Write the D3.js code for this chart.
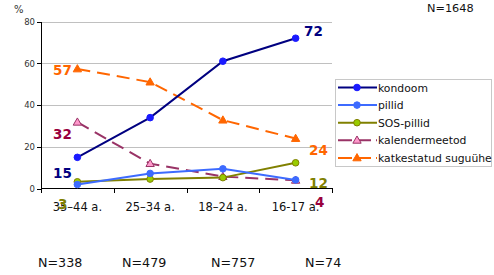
<!DOCTYPE html>
<meta charset="utf-8" />
<style>
  body { margin: 0; background: #fff; font-family: "DejaVu Sans", Verdana, sans-serif; }
  .grid line { stroke: #c0c0c0; stroke-width: 1; shape-rendering: crispEdges; }
  .axis path, .axis line { stroke: #000; shape-rendering: crispEdges; }
  .series { fill: none; stroke-width: 2; }
  .vlabel { font-weight: bold; font-size: 13.5px; }
</style>
<body>
<script src="https://d3js.org/d3.v7.min.js"></script>
<script>
  // categories and tick labels
  var categories = ["35\u201344 a.", "25\u201334 a.", "18\u201324 a.", "16-17 a."];
  var sampleSizes = ["N=338", "N=479", "N=757", "N=74"];
  var yTicks = [0, 20, 40, 60, 80];

  // series values (%)
  var kondoom = [15, 34, 61, 72];
  var pillid = [2, 7.3, 9.5, 4.2];
  var sosPillid = [3.3, 4.6, 5.3, 12.4];
  var kalender = [31.8, 12, 5.8, 4];
  var katkestatud = [57.3, 51, 32.8, 24];

  var series = [
    { name: "kondoom", values: kondoom, line: "#000080", fill: "#1a1aff", stroke: "#1a1aff", marker: "circle", dash: null },
    { name: "pillid", values: pillid, line: "#3d6bff", fill: "#3d6bff", stroke: "#3d6bff", marker: "circle", dash: null },
    { name: "SOS-pillid", values: sosPillid, line: "#808000", fill: "#99cc00", stroke: "#808000", marker: "circle", dash: null },
    { name: "kalendermeetod", values: kalender, line: "#993366", fill: "#ff99cc", stroke: "#993366", marker: "triangle", dash: "13,7" },
    { name: "katkestatud suguühe", values: katkestatud, line: "#ff6600", fill: "#ff6600", stroke: "#ff6600", marker: "triangle", dash: "13,7" }
  ];

  // end value labels
  var endLabels = [
    { text: "72", x: 304, y: 36, color: "#000080" },
    { text: "15", x: 53, y: 178, color: "#000080" },
    { text: "57", x: 53, y: 75, color: "#ff6600" },
    { text: "24", x: 309, y: 155, color: "#ff6600" },
    { text: "32", x: 53, y: 139, color: "#99003d" },
    { text: "4", x: 315, y: 207, color: "#99003d" },
    { text: "12", x: 309, y: 188, color: "#808000" },
    { text: "3", x: 58, y: 209, color: "#808000" }
  ];

  var width = 494, height = 275;
  var svg = d3.select("body").append("svg")
    .attr("width", width).attr("height", height);

  var pLeft = 41, pRight = 332, pTop = 21.5, pBottom = 188.7;

  var x = d3.scaleBand().domain(categories).range([pLeft, pRight]);
  var y = d3.scaleLinear().domain([0, 80]).range([pBottom, pTop]);
  var cx = function (i) { return x(categories[i]) + x.bandwidth() / 2; };

  // gridlines
  svg.append("g").attr("class", "grid")
    .selectAll("line").data(yTicks.slice(1)).enter().append("line")
    .attr("x1", pLeft).attr("x2", pRight)
    .attr("y1", function (d) { return Math.round(y(d)) + 0.5; })
    .attr("y2", function (d) { return Math.round(y(d)) + 0.5; });

  // y axis
  var yAxis = svg.append("g").attr("class", "axis")
    .attr("transform", "translate(" + pLeft + ",0)")
    .call(d3.axisLeft(y).tickValues(yTicks).tickSize(4).tickSizeOuter(0));
  yAxis.selectAll("text").style("font-size", "8.5px").style("fill", "#333")
    .attr("x", -6).style("font-family", "DejaVu Sans");
  yAxis.select(".domain").attr("stroke-width", 1.5);

  // x axis (ticks at category boundaries)
  var xAxisG = svg.append("g").attr("class", "axis");
  xAxisG.append("line").attr("x1", pLeft).attr("x2", pRight + 1)
    .attr("y1", pBottom).attr("y2", pBottom).attr("stroke", "#000").attr("stroke-width", 1.5);
  var bounds = categories.map(function (c) { return x(c); }).concat([pRight]);
  xAxisG.selectAll(".tk").data(bounds).enter().append("line")
    .attr("x1", function (d) { return Math.round(d) + 0.5; })
    .attr("x2", function (d) { return Math.round(d) + 0.5; })
    .attr("y1", pBottom).attr("y2", pBottom + 4);
  xAxisG.selectAll(".lbl").data(categories).enter().append("text")
    .attr("x", function (d, i) { return cx(i); })
    .attr("y", 211)
    .attr("text-anchor", "middle")
    .style("font-size", "11.5px").style("fill", "#111")
    .text(function (d) { return d; });

  // % label
  svg.append("text").attr("x", 14).attr("y", 13)
    .style("font-size", "10px").style("fill", "#333").text("%");

  var line = d3.line()
    .x(function (d, i) { return cx(i); })
    .y(function (d) { return y(d); });

  var tri = d3.symbol().type(d3.symbolTriangle).size(30);

  function drawMarker(g, s, px, py) {
    if (s.marker === "circle") {
      g.append("circle").attr("cx", px).attr("cy", py).attr("r", 3.3)
        .attr("fill", s.fill).attr("stroke", s.stroke).attr("stroke-width", 1);
    } else {
      g.append("path").attr("d", tri())
        .attr("transform", "translate(" + px + "," + (py + 0.5) + ")")
        .attr("fill", s.fill).attr("stroke", s.stroke).attr("stroke-width", 1);
    }
  }

  // draw series in back-to-front order
  var order = [4, 3, 2, 1, 0];
  order.forEach(function (k) {
    var s = series[k];
    var g = svg.append("g");
    g.append("path").attr("class", "series")
      .attr("d", line(s.values))
      .attr("stroke", s.line)
      .attr("stroke-dasharray", s.dash);
    s.values.forEach(function (v, i) { drawMarker(g, s, cx(i), y(v)); });
  });

  // value labels
  svg.selectAll(".vlabel").data(endLabels).enter().append("text")
    .attr("class", "vlabel")
    .attr("x", function (d) { return d.x; })
    .attr("y", function (d) { return d.y; })
    .style("fill", function (d) { return d.color; })
    .text(function (d) { return d.text; });

  // legend
  var lg = svg.append("g");
  lg.append("rect").attr("x", 335.5).attr("y", 79.5).attr("width", 156).attr("height", 87)
    .attr("fill", "#fff").attr("stroke", "#c8c8c8");
  series.forEach(function (s, i) {
    var ly = 87.5 + i * 17.6;
    lg.append("line").attr("x1", 338).attr("x2", 377).attr("y1", ly).attr("y2", ly)
      .attr("stroke", s.line).attr("stroke-width", 2)
      .attr("stroke-dasharray", s.dash ? "14,5" : null);
    drawMarker(lg, s, 357, ly);
    lg.append("text").attr("x", 378).attr("y", ly + 4)
      .style("font-size", "10.8px").style("fill", "#111").text(s.name);
  });

  // sample sizes
  svg.append("text").attr("x", 427).attr("y", 12)
    .style("font-size", "11.3px").style("fill", "#111").text("N=1648");
  var nX = [38, 122, 211, 305];
  svg.selectAll(".nlab").data(sampleSizes).enter().append("text")
    .attr("x", function (d, i) { return nX[i]; })
    .attr("y", 267)
    .style("font-size", "12.7px").style("fill", "#111")
    .text(function (d) { return d; });
</script>
</body>
